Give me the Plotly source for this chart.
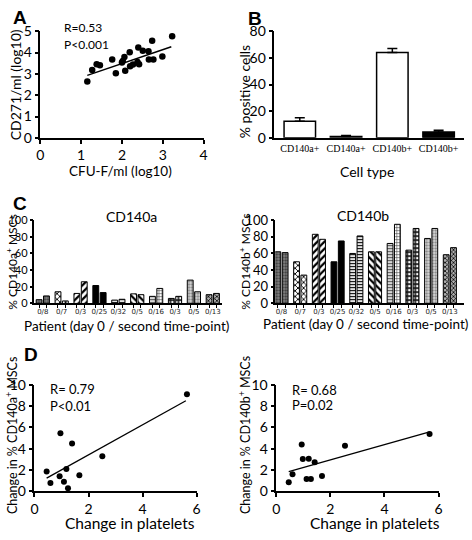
import plotly.graph_objects as go

# ---------------- DATA ----------------
# Panel A
a_cfu = [1.15, 1.27, 1.38, 1.46, 1.76, 1.85, 2.00, 2.02, 2.06, 2.08, 2.19, 2.20, 2.27,
         2.38, 2.40, 2.42, 2.51, 2.65, 2.66, 2.74, 2.77, 2.99, 3.23]
a_cd271 = [2.64, 3.18, 3.45, 3.41, 3.67, 3.03, 3.53, 3.61, 3.79, 3.15, 4.02, 3.36, 3.44,
           3.56, 4.24, 3.45, 4.09, 4.06, 3.67, 4.55, 3.67, 3.82, 4.77]
a_fit_x = [1.15, 3.21]
a_fit_y = [2.93, 4.27]

# Panel B
b_labels = ["CD140a+", "CD140a+", "CD140b+", "CD140b+"]
b_values = [12.5, 0.9, 64.0, 4.3]
b_err = [2.5, 0.8, 3.0, 1.4]
b_colors = ["white", "white", "white", "black"]

# Panel C
c_patients = ["0/8", "0/7", "0/3", "0/25", "0/32", "0/5", "0/16", "0/3", "0/5", "0/13"]
c_a_day0 = [4.5, 14, 12, 21.5, 4, 11.5, 8.5, 6, 28, 10.5]
c_a_second = [9, 3, 26, 13, 5, 10.5, 18, 8.5, 14, 12]
c_b_day0 = [62, 50, 83, 50, 60, 62, 72, 64, 78, 58.5]
c_b_second = [61, 34, 77, 75, 81, 62, 95, 90, 90, 67]

# Panel D
d_a_plt = [0.45, 0.59, 0.93, 0.96, 1.09, 1.18, 1.24, 1.39, 1.66, 2.51, 5.64]
d_a_chg = [1.85, 0.79, 1.42, 5.45, 0.91, 2.09, 0.30, 4.48, 1.52, 3.30, 9.12]
d_a_fit_x = [0.45, 5.6]
d_a_fit_y = [1.24, 8.5]
d_b_plt = [0.46, 0.60, 0.94, 0.98, 1.12, 1.20, 1.28, 1.42, 1.69, 2.54, 5.67]
d_b_chg = [0.85, 1.61, 4.39, 3.03, 1.15, 3.06, 1.15, 2.73, 1.45, 4.27, 5.39]
d_b_fit_x = [0.46, 5.64]
d_b_fit_y = [1.85, 5.55]

# ---------------- STYLE ----------------
W, H = 472, 540
FONT = "Lato"


def dom_x(a, b):
    return [a / W, b / W]


def dom_y(top, bottom):
    return [1 - bottom / H, 1 - top / H]


# patterns per patient pair (day0, second)
pat_shape_0 = [".", "x", "/", "/", "-", "\\", "-", ".", ".", "x"]
pat_shape_1 = [".", "x", "/", "/", "-", "\\", "+", ".", ".", "x"]
pat_fg_0 = ["#333333", "black", "black", "black", "black", "black", "#555555", "white", "#777777", "black"]
pat_fg_1 = ["#333333", "black", "black", "black", "black", "black", "#444444", "white", "#777777", "black"]
pat_bg_0 = ["#8c8c8c", "white", "white", "black", "white", "white", "#d8d8d8", "#1e1e1e", "#e4e4e4", "#b0b0b0"]
pat_bg_1 = ["#8c8c8c", "white", "white", "black", "white", "white", "white", "#1e1e1e", "#e4e4e4", "#b0b0b0"]
pat_size = [3, 4, 5, 4, 3, 5, 3, 4, 3, 3]
pat_sol = [0.45, 0.4, 0.45, 0.5, 0.4, 0.45, 0.35, 0.35, 0.45, 0.45]

fig = go.Figure()

# ---- A ----
fig.add_trace(go.Scatter(x=a_cfu, y=a_cd271, mode="markers",
                         marker=dict(color="black", size=6.5), xaxis="x", yaxis="y"))
fig.add_trace(go.Scatter(x=a_fit_x, y=a_fit_y, mode="lines",
                         line=dict(color="black", width=1.5), xaxis="x", yaxis="y"))

# ---- B ----
b_x = list(range(len(b_values)))
fig.add_trace(go.Bar(x=b_x, y=b_values, width=0.68,
                     marker=dict(color=b_colors, line=dict(color="black", width=1.5)),
                     error_y=dict(type="data", array=b_err, arrayminus=[0] * 4, symmetric=False,
                                  color="black", thickness=1.5, width=5),
                     xaxis="x2", yaxis="y2"))

# ---- C ----
off, bw = 0.195, 0.31
idx = list(range(len(c_patients)))


def pair_bars(vals0, vals1, xa, ya):
    fig.add_trace(go.Bar(x=[i - off for i in idx], y=vals0, width=bw,
                         marker=dict(color="white", line=dict(color="black", width=1),
                                     pattern=dict(shape=pat_shape_0, fgcolor=pat_fg_0, bgcolor=pat_bg_0,
                                                  size=pat_size, solidity=pat_sol, fillmode="replace")),
                         xaxis=xa, yaxis=ya))
    fig.add_trace(go.Bar(x=[i + off for i in idx], y=vals1, width=bw,
                         marker=dict(color="white", line=dict(color="black", width=1),
                                     pattern=dict(shape=pat_shape_1, fgcolor=pat_fg_1, bgcolor=pat_bg_1,
                                                  size=pat_size, solidity=pat_sol, fillmode="replace")),
                         xaxis=xa, yaxis=ya))


pair_bars(c_a_day0, c_a_second, "x3", "y3")
pair_bars(c_b_day0, c_b_second, "x4", "y4")

# ---- D ----
fig.add_trace(go.Scatter(x=d_a_plt, y=d_a_chg, mode="markers",
                         marker=dict(color="black", size=6), xaxis="x5", yaxis="y5"))
fig.add_trace(go.Scatter(x=d_a_fit_x, y=d_a_fit_y, mode="lines",
                         line=dict(color="black", width=1.3), xaxis="x5", yaxis="y5"))
fig.add_trace(go.Scatter(x=d_b_plt, y=d_b_chg, mode="markers",
                         marker=dict(color="black", size=6), xaxis="x6", yaxis="y6"))
fig.add_trace(go.Scatter(x=d_b_fit_x, y=d_b_fit_y, mode="lines",
                         line=dict(color="black", width=1.3), xaxis="x6", yaxis="y6"))

ax = dict(showline=True, linecolor="black", linewidth=1.5, ticks="outside", ticklen=4,
          tickwidth=1.5, tickcolor="black", showgrid=False, zeroline=False,
          tickfont=dict(family=FONT, size=14, color="black"))

minor_c = dict(ticks="outside", ticklen=3, tickwidth=1, tickcolor="black", tickmode="array",
               tickvals=[i - off for i in idx] + [i + off for i in idx])

fig.update_layout(
    width=W, height=H, margin=dict(l=0, r=0, t=0, b=0),
    paper_bgcolor="white", plot_bgcolor="white", showlegend=False,
    barmode="overlay",
    xaxis=dict(ax, domain=dom_x(37, 203), range=[0, 4], dtick=1, anchor="y"),
    yaxis=dict(ax, domain=dom_y(23, 133), range=[0, 5], dtick=1, anchor="x"),
    xaxis2=dict(ax, domain=dom_x(275, 468), range=[-0.55, 3.55], anchor="y2", ticks="",
                tickmode="array", tickvals=b_x, ticktext=b_labels, tickangle=0,
                tickfont=dict(family="Liberation Serif", size=10, color="black")),
    yaxis2=dict(ax, domain=dom_y(23, 133), range=[0, 80], dtick=20, anchor="x2"),
    xaxis3=dict(ax, domain=dom_x(31, 222), range=[-0.44, 9.5], anchor="y3", ticks="",
                tickmode="array", tickvals=idx, ticktext=c_patients, minor=minor_c, tickangle=0,
                tickfont=dict(family="DejaVu Sans", size=7, color="#222222")),
    yaxis3=dict(ax, domain=dom_y(218, 304), range=[0, 100], dtick=20, anchor="x3", ticklen=3,
                tickfont=dict(family=FONT, size=11, color="black")),
    xaxis4=dict(ax, domain=dom_x(276, 468), range=[-0.33, 9.76], anchor="y4", ticks="",
                tickmode="array", tickvals=idx, ticktext=c_patients, minor=minor_c, tickangle=0,
                tickfont=dict(family="DejaVu Sans", size=7, color="#222222")),
    yaxis4=dict(ax, domain=dom_y(218, 304), range=[0, 100], dtick=20, anchor="x4", ticklen=3,
                tickfont=dict(family=FONT, size=13, color="black")),
    xaxis5=dict(ax, domain=dom_x(31, 196), range=[0, 6], dtick=2, anchor="y5",
                tickfont=dict(family=FONT, size=14, color="black")),
    yaxis5=dict(ax, domain=dom_y(388, 498), range=[0, 10], dtick=2, anchor="x5",
                tickfont=dict(family=FONT, size=14, color="black")),
    xaxis6=dict(ax, domain=dom_x(277, 442), range=[0, 6], dtick=2, anchor="y6",
                tickfont=dict(family=FONT, size=14, color="black")),
    yaxis6=dict(ax, domain=dom_y(388, 498), range=[0, 10], dtick=2, anchor="x6",
                tickfont=dict(family=FONT, size=14, color="black")),
)


def ann(text, x, y, size=13, angle=0, family=FONT, bold=False, xanchor="center"):
    fig.add_annotation(text=("<b>%s</b>" % text) if bold else text, x=x / W, y=1 - y / H,
                       xref="paper", yref="paper", showarrow=False, textangle=angle,
                       xanchor=xanchor, yanchor="middle",
                       font=dict(family=family, size=size, color="black"))


# panel letters
ann("A", 16, 9, size=19, family="Liberation Sans", bold=True)
ann("B", 255, 10, size=19, family="Liberation Sans", bold=True)
ann("C", 16, 201, size=19, family="Liberation Sans", bold=True)
ann("D", 27, 357, size=19, family="Liberation Sans", bold=True)

# A texts
ann("R=0.53", 59, 19, size=12, xanchor="left")
ann("P<0.001", 59, 37, size=12, xanchor="left")
ann("CFU-F/ml (log10)", 118, 167, size=13.5)
ann("CD271/ml (log10)", 12, 78, size=14, angle=-90)

# B texts
ann("Cell type", 369, 168, size=14)
ann("% positive cells", 244, 85, size=14, angle=-90)

# C texts
ann("CD140a", 130, 214, size=14)
ann("CD140b", 365, 213, size=14)
ann("% CD140a<sup>+</sup> MSCs", 8, 261, size=12, angle=-90)
ann("% CD140b<sup>+</sup> MSCs", 245, 261, size=12, angle=-90)
ann("Patient (day 0 / second time-point)", 125, 327, size=13.5)
ann("Patient (day 0 / second time-point)", 368, 325, size=13.5)

# D texts
ann("R= 0.79", 45, 392, size=13, xanchor="left")
ann("P<0.01", 45, 410, size=13, xanchor="left")
ann("R= 0.68", 291, 393, size=13, xanchor="left")
ann("P=0.02", 291, 409, size=13, xanchor="left")
ann("Change in platelets", 128, 531, size=15.5)
ann("Change in platelets", 377, 531, size=15.5)
ann("Change in % CD140a<sup>+</sup> MSCs", 7, 440, size=12.5, angle=-90)
ann("Change in % CD140b<sup>+</sup> MSCs", 244, 440, size=12.5, angle=-90)

fig.write_html("out.html", config={"displayModeBar": False},
               post_script="document.body.style.margin='0';")
